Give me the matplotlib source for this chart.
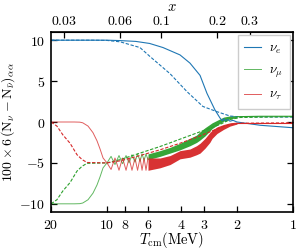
import numpy as np
import matplotlib
matplotlib.use("Agg")
import matplotlib.pyplot as plt
from matplotlib.ticker import FixedLocator, NullLocator

plt.rcParams["mathtext.fontset"] = "cm"
plt.rcParams["font.family"] = ["DejaVu Serif"]

# ── curves: temperature (MeV) and value ──
# nu_e
e_solid_T = [20, 12, 10, 8.5, 7.0, 5.9, 5.0, 4.05, 3.58, 3.16, 2.9, 2.63, 2.47, 2.40, 2.35, 2.30, 2.25, 2.18, 2.1, 2.0, 1.5, 1.0]
e_solid_y = [10, 10, 10, 9.95, 9.85, 9.6, 9.1, 8.2, 7.2, 5.7, 3.5, 1.5, 0.5, 0.15, 0.4, 0.05, 0.3, 0.1, 0.2, 0.0, -0.4, -0.7]
e_dash_T = [20, 12, 10, 8.5, 6.65, 5.87, 4.58, 3.71, 3.05, 2.56, 2.18, 2.0, 1.0]
e_dash_y = [10, 10, 9.97, 9.8, 9.1, 8.0, 5.9, 3.7, 1.9, 1.26, 0.73, 0.65, 0.6]

# nu_mu / nu_tau before the oscillations start
pre_T = [20, 15, 14, 13.5, 12.65, 11.9, 11.32, 10.9, 10.5, 10.0]
mu_pre_y = [-10, -10, -9.98, -9.9, -9.5, -8.7, -7.7, -6.7, -5.6, -5.0]
tau_pre_y = [0, 0, -0.02, -0.1, -0.5, -1.3, -2.3, -3.3, -4.4, -5.0]

# oscillation extrema between T = 10 and T = 6
osc_T = [9.51, 9.06, 8.62, 8.25, 7.90, 7.61, 7.34, 7.07, 6.85, 6.64, 6.48, 6.32, 6.17, 6.02]
mu_osc_y = [-4.2, -5.2, -4.1, -5.1, -4.1, -5.0, -4.0, -4.9, -3.9, -4.8, -3.9, -4.7, -3.9, -4.6]
tau_osc_y = [-5.8, -4.4, -5.9, -4.4, -5.9, -4.4, -5.9, -4.4, -5.9, -4.4, -5.9, -4.4, -5.9, -4.4]

# dense oscillation bands (lower / upper envelope)
band_T = [6.02, 5.19, 4.58, 4.05, 3.58, 3.30, 3.16, 2.97, 2.80, 2.72, 2.56, 2.36, 2.18, 2.0]
mu_lo = [-4.6, -4.2, -3.8, -3.4, -2.9, -2.5, -2.2, -1.7, -1.1, -0.8, -0.4, 0.1, 0.4, 0.5]
mu_hi = [-3.9, -3.5, -3.1, -2.6, -2.0, -1.6, -1.2, -0.7, -0.3, -0.1, 0.2, 0.6, 0.75, 0.8]
tau_lo = [-5.9, -5.6, -5.2, -4.5, -4.3, -4.0, -3.8, -3.2, -2.5, -2.0, -1.4, -0.9, -0.5, -0.25]
tau_hi = [-4.4, -4.4, -4.1, -3.5, -3.3, -2.9, -2.6, -2.0, -1.3, -1.0, -0.6, -0.3, -0.1, 0.0]

# tails after the bands
tail_T = [2.0, 1.5, 1.0]
mu_tail_y = [0.65, 0.7, 0.7]
tau_tail_y = [-0.1, -0.1, -0.1]

# dashed nu_mu / nu_tau
tau_dash_T = [20, 18.6, 17.24, 15.8, 14.5, 13.6, 12.8, 10, 8.51, 6.64, 5.19, 4.05, 3.16, 2.47, 2.18, 1.93, 1.0]
tau_dash_y = [0, -0.5, -1.6, -2.6, -4.0, -4.6, -4.95, -5.0, -4.75, -4.1, -3.4, -2.6, -1.7, -0.7, -0.3, -0.15, -0.1]
mu_dash_T = [20, 18.6, 17.24, 15.8, 14.5, 13.6, 12.8, 10, 8.51, 6.64, 5.19, 4.05, 3.16, 2.47, 2.18, 1.93, 1.0]
mu_dash_y = [-10, -9.5, -8.4, -7.4, -6.0, -5.4, -5.05, -5.0, -4.6, -3.8, -3.0, -2.1, -1.2, -0.3, 0.3, 0.55, 0.65]

x_ticks = [20, 10, 8, 6, 4, 3, 2, 1]
y_ticks = [-10, -5, 0, 5, 10]
top_ticks = [0.03, 0.06, 0.1, 0.2, 0.3]
m_e = 0.511

c_e, c_mu, c_tau = "#1f77b4", "#2ca02c", "#d62728"
dash = (0, (3, 1.5))

fig = plt.figure(figsize=(3.02, 2.5), dpi=100)
ax = fig.add_axes([0.169, 0.152, 0.801, 0.72])

# nu_e
ax.plot(e_solid_T, e_solid_y, color=c_e, lw=0.8, label=r"$\nu_e$")
ax.plot(e_dash_T, e_dash_y, color=c_e, lw=0.8, ls=dash)

# nu_mu
ax.plot(pre_T + osc_T, mu_pre_y + mu_osc_y, color=c_mu, lw=0.7, alpha=0.75, label=r"$\nu_\mu$")
ax.fill_between(band_T, mu_lo, mu_hi, color=c_mu, alpha=0.95, lw=0)
ax.plot(tail_T, mu_tail_y, color=c_mu, lw=0.8)
ax.plot(mu_dash_T, mu_dash_y, color=c_mu, lw=0.8, ls=dash)

# nu_tau
ax.plot(pre_T + osc_T, tau_pre_y + tau_osc_y, color=c_tau, lw=0.7, alpha=0.75, label=r"$\nu_\tau$")
ax.fill_between(band_T, tau_lo, tau_hi, color=c_tau, alpha=0.95, lw=0)
ax.plot(tail_T, tau_tail_y, color=c_tau, lw=0.8)
ax.plot(tau_dash_T, tau_dash_y, color=c_tau, lw=0.8, ls=dash)

ax.set_xscale("log")
ax.set_xlim(20, 1)
ax.set_ylim(-11, 11)

ax.xaxis.set_major_locator(FixedLocator(x_ticks))
ax.xaxis.set_minor_locator(NullLocator())
ax.set_xticklabels([f"${t}$" for t in x_ticks], fontsize=10)
ax.set_yticks(y_ticks)
ax.set_yticklabels([f"${t}$" for t in y_ticks], fontsize=10)
ax.tick_params(direction="in", length=4, width=0.9, right=True, top=False, pad=4)
for sp in ax.spines.values():
    sp.set_linewidth(1.2)

ax.set_xlabel(r"$T_{\rm cm}(\mathrm{MeV})$", fontsize=10.5, labelpad=-1)
ax.set_ylabel(r"$100\times 6\,(\mathrm{N}_\nu-\mathrm{N}_{\bar\nu})_{\alpha\alpha}$", fontsize=10, labelpad=2)

top = ax.secondary_xaxis("top", functions=(lambda T: m_e / T, lambda x: m_e / x))
top.xaxis.set_major_locator(FixedLocator(top_ticks))
top.xaxis.set_minor_locator(NullLocator())
top.set_xticklabels([f"${t}$" for t in top_ticks], fontsize=10)
top.tick_params(direction="in", length=4, width=0.9, pad=3)
top.set_xlabel(r"$x$", fontsize=10.5, labelpad=2)

leg = ax.legend(loc="upper right", fontsize=9.5, fancybox=False, framealpha=1,
                edgecolor="#cccccc", borderaxespad=0.25, handlelength=1.3,
                labelspacing=0.6, handletextpad=0.6, borderpad=0.5)
leg.get_frame().set_linewidth(1.0)

fig.savefig("out.png", dpi=100)
